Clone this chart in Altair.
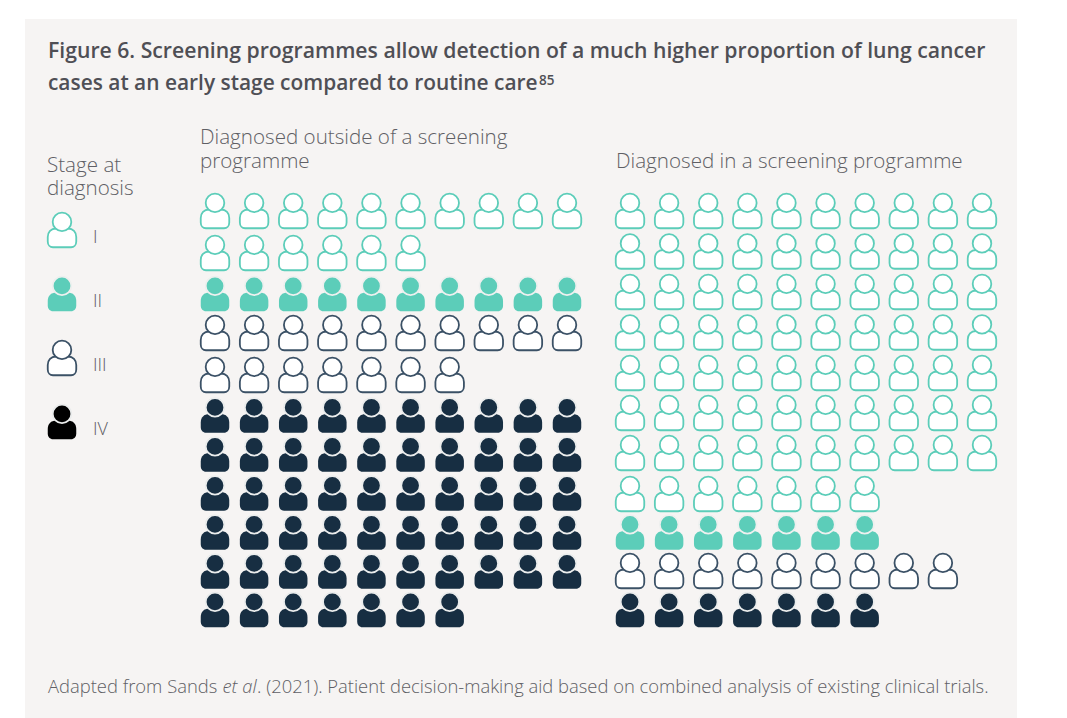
import altair as alt
import pandas as pd

# ---- data ----
stages = ["I", "II", "III", "IV"]
counts_outside = [16, 10, 17, 57]
counts_screening = [77, 7, 9, 7]
per_row = 10
title_lines = [
    "Figure 6. Screening programmes allow detection of a much higher proportion of lung cancer",
    "cases at an early stage compared to routine care",
]
note_parts = ["Adapted from Sands", "et al", ". (2021). Patient decision-making aid based on combined analysis of existing clinical trials."]

TEAL = "#5ccdb9"
NAVY = "#172e42"
NAVY_LINE = "#3b5166"
BG = "#f6f4f3"
TXT = "#4f4f55"
TXT2 = "#5f5f65"
OFF = 8
FONT = "Open Sans"


def grid(counts):
    rows = []
    row = 0
    for stage, n in zip(stages, counts):
        for i in range(n):
            rows.append({"stage": stage, "col": i % per_row, "row": row + i // per_row})
        row += (n + per_row - 1) // per_row
    return pd.DataFrame(rows)


def p(cmds):
    # icon outline in pixels around its centre -> unit coordinates for the symbol
    out = []
    for c in cmds:
        if isinstance(c, str):
            out.append(c)
        else:
            out.append(f"{c[0]/15:.4f},{c[1]/15:.4f}")
    return " ".join(out)


BODY = p(["M", (-6, -1.5), "C", (-11, -1.5), (-14.25, 2), (-14.25, 7), "L", (-14.25, 11.5),
          "C", (-14.25, 15), (-12, 17.25), (-9, 17.25), "L", (9, 17.25),
          "C", (12, 17.25), (14.25, 15), (14.25, 11.5), "L", (14.25, 7),
          "C", (14.25, 2), (11, -1.5), (6, -1.5), "Z"])
HEAD = "M -0.62,-0.54 A 0.62,0.62 0 1 1 0.62,-0.54 A 0.62,0.62 0 1 1 -0.62,-0.54 Z"
ICON_SIZE = 900


def icons(df, x_enc, y_enc, fills, body_strokes, head_strokes):
    fs = alt.Scale(domain=stages, range=fills)
    base = alt.Chart(df).encode(
        x=x_enc, y=y_enc,
        fill=alt.Fill("stage:N", scale=fs, legend=None),
    )
    body = base.mark_point(shape=BODY, size=ICON_SIZE, filled=False, fillOpacity=1, strokeWidth=1.8, opacity=1).encode(
        stroke=alt.Stroke("stage:N", scale=alt.Scale(domain=stages, range=body_strokes), legend=None))
    head = base.mark_point(shape=HEAD, size=ICON_SIZE, filled=False, fillOpacity=1, strokeWidth=1.8, opacity=1).encode(
        stroke=alt.Stroke("stage:N", scale=alt.Scale(domain=stages, range=head_strokes), legend=None))
    return alt.layer(body, head).resolve_scale(fill="shared", stroke="independent", x="shared", y="shared")


def waffle(counts, x_range, row_px):
    df = grid(counts)
    x_enc = alt.X("col:Q", axis=None, scale=alt.Scale(domain=[0, 9], range=[v - OFF for v in x_range]))
    y_enc = alt.Y("row:Q", axis=None, scale=alt.Scale(domain=list(range(len(row_px))), range=[v - OFF for v in row_px]))
    return icons(df, x_enc, y_enc,
                 ["#ffffff", TEAL, "#ffffff", NAVY],
                 [TEAL, "transparent", NAVY_LINE, "transparent"],
                 [TEAL, "#eef0ef", NAVY_LINE, "#ebeded"])


def text(s, x, y, size=20.6, weight=300, style="normal", color=TXT2, font=FONT):
    return alt.Chart(pd.DataFrame({"t": [s]})).mark_text(
        align="left", baseline="alphabetic", fontSize=size, fontWeight=weight, fontStyle=style,
        color=color, font=font,
    ).encode(x=alt.value(x - OFF), y=alt.value(y - OFF), text="t:N")


panel = alt.Chart(pd.DataFrame({"a": [0]})).mark_rect(color=BG).encode(
    x=alt.value(25 - OFF), x2=alt.value(1017 - OFF), y=alt.value(19 - OFF), y2=alt.value(718 - OFF))

left_rows = [211, 253, 294, 333, 375, 415.5, 454.5, 493.5, 532.5, 571.5, 610]
right_rows = [211, 251.5, 292, 332.5, 373, 413, 453, 494, 532.5, 571, 610]
left = waffle(counts_outside, [215, 567], left_rows)
right = waffle(counts_screening, [630, 982], right_rows)

legend_df = pd.DataFrame({"stage": stages, "pos": [0, 1, 2, 3]})
legend_icons = icons(
    legend_df,
    alt.value(62 - OFF),
    alt.Y("pos:Q", axis=None, scale=alt.Scale(domain=[0, 3], range=[230 - OFF, 422 - OFF])),
    ["#ffffff", TEAL, "#ffffff", "#000000"],
    [TEAL, "transparent", NAVY_LINE, "transparent"],
    [TEAL, "#eef0ef", NAVY_LINE, "#ebeded"],
)
legend_labels = alt.Chart(legend_df).mark_text(
    align="left", baseline="middle", fontSize=18, fontWeight=300, color=TXT2, font=FONT
).encode(
    x=alt.value(93 - OFF),
    y=alt.Y("pos:Q", axis=None, scale=alt.Scale(domain=[0, 3], range=[238 - OFF, 430 - OFF])),
    text="stage:N",
)

texts = [
    text(title_lines[0], 48, 58, size=21.2, weight=600, color=TXT),
    text(title_lines[1], 48, 90, size=20.9, weight=600, color=TXT),
    text("85", 539, 85, size=13.5, weight=600, color=TXT),
    text("Stage at", 47, 172),
    text("diagnosis", 47, 195),
    text("Diagnosed outside of a screening", 200, 144),
    text("programme", 200, 168),
    text("Diagnosed in a screening programme", 616, 168),
    text(note_parts[0], 48, 693, size=18.4),
    text(note_parts[1], 222.5, 693, size=18.4, style="italic"),
    text(note_parts[2], 257, 693, size=18.4),
]

chart = alt.layer(panel, *texts, legend_icons, legend_labels, left, right).resolve_scale(
    x="independent", y="independent", fill="independent", stroke="independent"
).properties(
    width=1051, height=710, padding=0, background="#ffffff",
).configure_view(stroke=None)

chart.save("out.html", embed_options={"renderer": "svg", "actions": False})
